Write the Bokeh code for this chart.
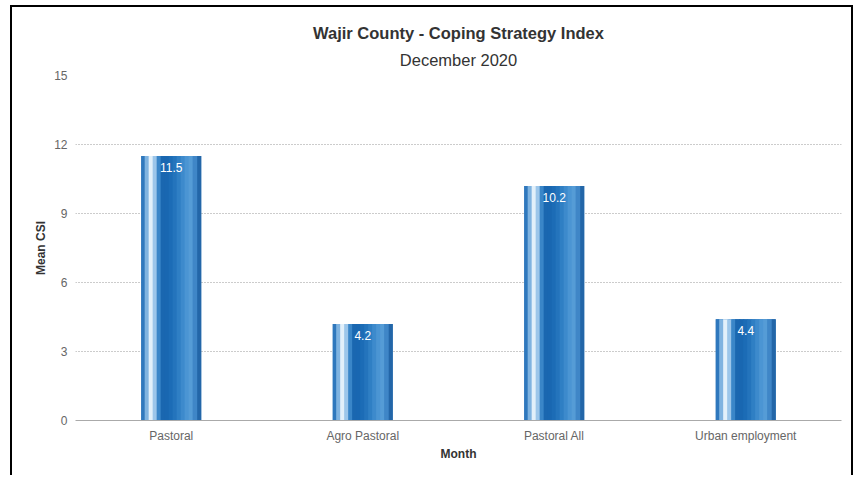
from bokeh.plotting import figure
from bokeh.models import ColumnDataSource, Range1d, FixedTicker, LabelSet, Title
from bokeh.core.properties import value
from bokeh.transform import dodge
from bokeh.embed import file_html
from bokeh.resources import INLINE

categories = ["Pastoral", "Agro Pastoral", "Pastoral All", "Urban employment"]
values = [11.5, 4.2, 10.2, 4.4]
value_labels = ["11.5", "4.2", "10.2", "4.4"]
y_ticks = [0, 3, 6, 9, 12, 15]
title_text = "Wajir County - Coping Strategy Index"
subtitle_text = "December 2020"

FONT = "Liberation Sans"

source = ColumnDataSource(dict(cat=categories, val=values, lab=value_labels))

p = figure(x_range=categories, y_range=Range1d(0, 15), width=843, height=470,
           output_backend="svg", toolbar_location=None,
           min_border_left=63, min_border_right=14, min_border_bottom=57, min_border_top=68)
p.styles = {"margin": "5px 0 0 10px", "border": "2px solid black", "border-bottom": "none"}

sub = Title(text=subtitle_text, align="center", text_font=FONT, text_font_size="16.5px",
            text_font_style="normal", text_color="#333333", standoff=14)
main = Title(text=title_text, align="center", text_font=FONT,
             text_font_size="16.5px", text_font_style="bold", text_color="#333333", standoff=0)
p.add_layout(sub, "above")
p.add_layout(main, "above")

p.outline_line_color = None
p.background_fill_color = "white"
p.border_fill_color = "white"

# gradient strips for cylinder-like bars
bar_w = 0.313
p.vbar(x="cat", top="val", width=bar_w, source=source, fill_color="#1f6db4", line_color=None)
strip_colors = ["#2f78bd", "#7fb3e0", "#e2f0fa", "#9cc6ea", "#3a86c8", "#1a67b0",
                "#1967b1", "#1c6cb6", "#2474bc", "#2f7fc4", "#3d8acc", "#4b95d3",
                "#559cd6", "#3f86c7", "#2366a8"]
n = len(strip_colors)
sw = bar_w / n
for i, c in enumerate(strip_colors):
    off = -bar_w / 2 + sw * (i + 0.5)
    w = sw * 1.3 if 0 < i < n - 1 else sw
    p.vbar(x=dodge("cat", off, range=p.x_range), top="val", width=w, source=source,
           fill_color=c, line_color=None)

labels = LabelSet(x="cat", y="val", text="lab", source=source, text_align="center",
                  text_baseline="top", y_offset=-7, text_color="white",
                  text_font_size="12px", text_font=value(FONT))
p.add_layout(labels)

p.yaxis.ticker = FixedTicker(ticks=y_ticks)
p.yaxis.axis_line_color = None
p.yaxis.major_tick_line_color = None
p.yaxis.minor_tick_line_color = None
p.yaxis.major_label_text_font = FONT
p.yaxis.major_label_text_font_size = "12px"
p.yaxis.major_label_text_color = "#666666"
p.yaxis.major_label_standoff = 2
p.yaxis.axis_label = "Mean CSI"
p.yaxis.axis_label_text_font = FONT
p.yaxis.axis_label_text_font_size = "12px"
p.yaxis.axis_label_text_font_style = "bold"
p.yaxis.axis_label_text_color = "#333333"
p.yaxis.axis_label_standoff = 3

p.xaxis.axis_line_color = "#aaaaaa"
p.xaxis.major_tick_line_color = None
p.xaxis.minor_tick_line_color = None
p.xaxis.major_label_text_font = FONT
p.xaxis.major_label_text_font_size = "12px"
p.xaxis.major_label_text_color = "#666666"
p.xaxis.major_label_standoff = 2
p.xaxis.axis_label = "Month"
p.xaxis.axis_label_text_font = FONT
p.xaxis.axis_label_text_font_size = "12px"
p.xaxis.axis_label_text_font_style = "bold"
p.xaxis.axis_label_text_color = "#333333"
p.xaxis.axis_label_standoff = 1

p.xgrid.grid_line_color = None
p.ygrid.grid_line_color = "#999999"
p.ygrid.grid_line_dash = "1 2"
p.ygrid.grid_line_width = 1

open("out.html", "w").write(file_html(p, INLINE))
